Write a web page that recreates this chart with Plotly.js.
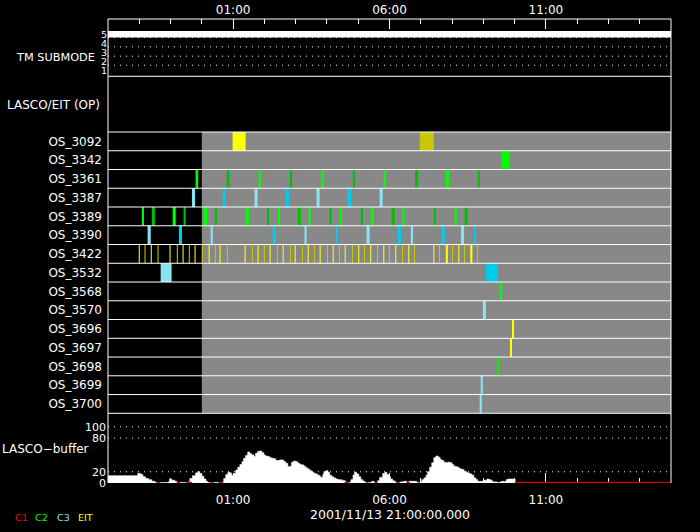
<!DOCTYPE html>
<html><head><meta charset="utf-8">
<script src="https://cdn.plot.ly/plotly-3.0.1.min.js"></script>
<style>html,body{margin:0;padding:0;background:#000;}#chart{width:700px;height:532px;}</style>
</head><body><div id="chart"></div>
<script>
// ---------------- DATA ----------------
const startLabel = '2001/11/13 21:00:00.000';
const tickTimes = ['01:00', '06:00', '11:00'];
const rowNames = ['OS_3092','OS_3342','OS_3361','OS_3387','OS_3389','OS_3390','OS_3422','OS_3532',
                  'OS_3568','OS_3570','OS_3696','OS_3697','OS_3698','OS_3699','OS_3700'];

// observations: row, start (UT), duration (min), shade key
const obsRow = [
 'OS_3092','OS_3092',
 'OS_3342',
 'OS_3361','OS_3361','OS_3361','OS_3361','OS_3361','OS_3361','OS_3361','OS_3361','OS_3361','OS_3361',
 'OS_3387','OS_3387','OS_3387','OS_3387','OS_3387','OS_3387','OS_3387',
 'OS_3389','OS_3389','OS_3389','OS_3389','OS_3389','OS_3389','OS_3389','OS_3389','OS_3389','OS_3389',
 'OS_3389','OS_3389','OS_3389','OS_3389','OS_3389','OS_3389','OS_3389','OS_3389','OS_3389','OS_3389',
 'OS_3390','OS_3390','OS_3390','OS_3390','OS_3390','OS_3390','OS_3390','OS_3390','OS_3390','OS_3390','OS_3390','OS_3390',
 'OS_3422','OS_3422','OS_3422','OS_3422','OS_3422','OS_3422','OS_3422','OS_3422','OS_3422','OS_3422',
 'OS_3422','OS_3422','OS_3422','OS_3422','OS_3422','OS_3422','OS_3422','OS_3422','OS_3422','OS_3422',
 'OS_3422','OS_3422','OS_3422','OS_3422','OS_3422','OS_3422','OS_3422','OS_3422','OS_3422','OS_3422',
 'OS_3422','OS_3422','OS_3422','OS_3422','OS_3422','OS_3422','OS_3422','OS_3422','OS_3422','OS_3422',
 'OS_3422','OS_3422','OS_3422','OS_3422','OS_3422','OS_3422','OS_3422','OS_3422','OS_3422','OS_3422',
 'OS_3532','OS_3532',
 'OS_3568','OS_3570','OS_3696','OS_3697','OS_3698','OS_3699','OS_3700'
];
const obsStart = [
 '00:59','06:58',
 '09:35',
 '23:48','00:48','01:49','02:49','03:49','04:50','05:49','06:49','07:48','08:49',
 '23:41','00:40','01:41','02:41','03:40','04:39','05:41',
 '22:05','22:24','23:04','23:25','00:04','00:25','01:24','02:05','02:26','03:04',
 '03:25','04:05','04:25','05:05','05:24','06:04','06:25','07:25','08:05','08:24',
 '22:16','23:16','00:17','02:16','03:17','04:17','05:16','06:16','06:41','07:40','08:17','08:42',
 '21:59','22:10','22:22','22:35','22:58','23:12','23:23','23:35','23:46','00:00',
 '00:13','00:25','00:34','00:48','01:22','01:36','01:47','01:59','02:10','02:24',
 '02:35','02:49','02:58','03:12','03:23','03:35','03:46','04:00','04:11','04:23',
 '04:34','04:48','05:00','05:11','05:23','05:36','05:48','05:59','06:11','06:24',
 '06:36','06:47','07:24','07:35','07:48','08:00','08:12','08:23','08:35','08:48',
 '22:41','09:05',
 '09:32','08:59','09:55','09:51','09:28','08:55','08:53'
];
const obsDur = [
 25,27,
 15,
 5,5,4,4,5,4,4,6,6,4,
 6,6,6,6,6,8,6,
 4,6,6,4,6,4,6,4,4,6,
 4,4,4,4,6,6,4,4,4,6,
 6,6,4,6,4,4,6,6,4,6,6,4,
 2,2,2,2,2,2,2,2,2,2,
 2,2,2,2,2,2,2,2,2,2,
 2,2,2,2,2,2,2,2,2,2,
 2,2,2,2,2,2,2,2,2,2,
 2,2,2,2,4,2,2,2,4,2,
 21,23,
 4,6,4,4,2,4,4
];
const obsShade = [
 'EITa','EITb',
 'C2a',
 'C2a','C2b','C2a','C2b','C2a','C2b','C2a','C2b','C2a','C2b',
 'C3a','C3b','C3a','C3b','C3a','C3b','C3a',
 'C2a','C2b','C2a','C2b','C2a','C2b','C2a','C2b','C2a','C2b',
 'C2a','C2b','C2a','C2b','C2a','C2b','C2a','C2b','C2a','C2b',
 'C3a','C3b','C3a','C3b','C3a','C3b','C3a','C3b','C3a','C3b','C3a','C3b',
 'EITa','EITb','EITa','EITb','EITa','EITb','EITa','EITb','EITa','EITb',
 'EITa','EITb','EITa','EITb','EITa','EITb','EITa','EITb','EITa','EITb',
 'EITa','EITb','EITa','EITb','EITa','EITb','EITa','EITb','EITa','EITb',
 'EITa','EITb','EITa','EITb','EITa','EITb','EITa','EITb','EITa','EITb',
 'EITa','EITb','EITa','EITb','EITa','EITb','EITa','EITb','EITa','EITb',
 'C3a','C3b',
 'C2a','C3a','EITa','EITa','C2a','C3a','C3a'
];

// TM submode (constant 5 over the whole span)
const tmTime = ['21:00', '15:00'];
const tmMode = [5, 5];

// LASCO buffer fill (minutes after 21:00 UT, percent)
const bufMinute = [0,53,57,63,67,72,78,84,90,93,
 101,115,118,122,128,132,138,149,153,157,
 162,168,172,176,180,184,188,191,197,203,
 212,218,222,226,230,234,237,241,245,249,
 253,257,260,264,268,272,276,280,283,287,
 291,295,299,302,306,310,314,318,322,325,
 329,333,337,341,345,349,352,356,360,364,
 368,372,376,379,383,387,391,395,399,402,
 406,408,412,414,418,422,425,429,433,437,
 441,448,452,456,458,462,466,470,473,477,
 481,485,489,493,496,500,506,510,514,517,
 521,527,531,535,539,542,546,550,554,560,
 567,573,577,584,592,596,598,602,606,610,
 613,617,621,625,629,633,637,640,644,648,
 652,656,660,663,667,671,675,679,683,687,
 690,694,698,702,706,709,717,721,727,731,
 735,738,746,752,755,759,761,764,767,779,
 781];
const bufValue = [13,13,17,15,11,8,6,3,1,0,
 1,2,7,5,3,0,1,0,2,8,
 13,18,20,17,12,7,3,1,0,1,
 0,1,8,15,19,18,14,17,23,28,
 33,38,44,49,55,52,50,47,53,56,
 57,54,50,48,47,45,44,43,40,40,
 41,41,38,35,29,30,37,39,38,35,
 33,32,30,27,25,22,19,17,16,14,
 12,10,15,20,22,19,14,11,9,7,
 6,5,4,1,0,1,6,14,19,16,
 11,6,3,1,0,1,3,1,0,4,
 10,17,19,15,11,7,4,2,0,2,
 3,0,3,3,1,0,2,6,9,14,
 20,28,36,45,48,46,42,40,37,36,
 37,36,33,30,29,27,25,24,21,19,
 18,16,14,9,6,3,3,5,7,6,
 4,2,1,2,3,1,3,6,7,7,
 0];
// stretches where the buffer reads empty (drawn red)
const bufEmptyFrom = [94,132,151,195,214,454,496,512,553,573,596,781];
const bufEmptyTo   = [99,138,161,197,220,460,498,517,557,579,598,1080];

// legend
const legendText = ['C1','C2','C3','EIT'];

// ---------------- STYLE ----------------
const FONT = 'DejaVu Sans';
const shadeColor = {C2a:'#00ff00', C2b:'#00c000', C3a:'#88e4f0', C3b:'#00ccee', EITa:'#ffff00', EITb:'#c8c800'};
const legendColor = ['#ff0000','#00ff00','#88e4f0','#ffff00'];
const W = 700, H = 532, ML = 108, MR = 29, MT = 19, MB = 49;
const PW = W - ML - MR, PH = H - MT - MB;
const px = x => (x - ML) / PW;          // pixel -> paper x
const py = y => (H - MB - y) / PH;      // pixel -> paper y
const D1 = py(413.3), D2 = py(132), D3 = py(76.3);

function toMin(t) {
  const [h, m] = t.split(':').map(Number);
  return (h >= 21 ? (h - 21) * 60 : (h + 3) * 60) + m;
}
const XR = [toMin(tmTime[0]), toMin(tmTime[1])];

// ---------------- TRACES ----------------
const traces = [];
Object.keys(shadeColor).forEach(key => {
  const idx = obsShade.map((s, i) => s === key ? i : -1).filter(i => i >= 0);
  if (!idx.length) return;
  traces.push({
    type: 'bar', orientation: 'h', xaxis: 'x', yaxis: 'y2',
    y: idx.map(i => rowNames.indexOf(obsRow[i])),
    x: idx.map(i => obsDur[i]),
    base: idx.map(i => toMin(obsStart[i])),
    width: 1,
    marker: {color: shadeColor[key], line: {width: 0}},
    hoverinfo: 'skip'
  });
});
// TM submode
traces.push({
  type: 'scatter', mode: 'lines', xaxis: 'x2', yaxis: 'y3',
  x: tmTime.map(toMin), y: tmMode, line: {color: '#fff', width: 6.5}, hoverinfo: 'skip'
});
// buffer
traces.push({
  type: 'scatter', mode: 'lines', xaxis: 'x', yaxis: 'y',
  x: bufMinute, y: bufValue, line: {shape: 'hv', color: '#fff', width: 0.6},
  fill: 'tozeroy', fillcolor: '#fff', hoverinfo: 'skip'
});
const ex = [], ey = [];
bufEmptyFrom.forEach((f, i) => { ex.push(f, bufEmptyTo[i], null); ey.push(0.9, 0.9, null); });
traces.push({
  type: 'scatter', mode: 'lines', xaxis: 'x', yaxis: 'y',
  x: ex, y: ey, line: {color: '#d00000', width: 1.3}, hoverinfo: 'skip'
});

// ---------------- LAYOUT ----------------
const shapes = [];
shapes.push({type:'rect', xref:'x', yref:'y2', x0: toMin('00:00'), x1: XR[1], y0: -0.5, y1: 14.5,
  fillcolor:'#888888', line:{width:0}, layer:'below'});
for (let i = 0; i < rowNames.length - 1; i++) {
  shapes.push({type:'line', xref:'paper', yref:'y2', x0:0, x1:1, y0:i+0.5, y1:i+0.5, line:{color:'#fff', width:1}});
}
[D1, D2, D3, 1].forEach(d => shapes.push({type:'line', xref:'paper', yref:'paper', x0:0, x1:1, y0:d, y1:d, line:{color:'#fff', width:1}}));
[0, 1].forEach(x => shapes.push({type:'line', xref:'paper', yref:'paper', x0:x, x1:x, y0:0, y1:1, line:{color:'#fff', width:1}}));
[1.58, 2.58, 3.61, 4.64].forEach(v => shapes.push({type:'line', xref:'paper', yref:'y3', x0:0, x1:1, y0:v, y1:v,
  line:{color:'#fff', width:1, dash:'1px,5px'}}));
[20, 80, 100].forEach(v => shapes.push({type:'line', xref:'paper', yref:'y', x0:0, x1:1, y0:v, y1:v,
  line:{color:'#fff', width:1, dash:'1px,5px'}, layer:'below'}));

const ann = [];
const lab = (text, x, y, anchor, size, color) => ann.push({text, xref:'paper', yref:'paper', x:px(x), y:py(y),
  xanchor:anchor, yanchor:'middle', showarrow:false, font:{family:FONT, size, color: color || '#fff'}});
lab('TM SUBMODE', 97, 57.5, 'right', 11.3);
lab('LASCO/EIT (OP)', 102, 105, 'right', 12);
lab('LASCO\u2212buffer', 91, 449, 'right', 12);
lab(startLabel, 389.5, 514, 'center', 12.5);
[13, 33, 55, 76].forEach((x, i) => lab(legendText[i], x, 517, 'left', 9.5, legendColor[i]));

const xcommon = {
  range: XR, tickmode:'array', tickvals: tickTimes.map(toMin), ticktext: tickTimes,
  ticks:'inside', ticklen:10, tickwidth:1, tickcolor:'#fff',
  minor:{tick0:0, dtick:60, ticks:'inside', ticklen:5, tickwidth:1, tickcolor:'#fff'},
  showgrid:false, zeroline:false, showline:false, fixedrange:true,
  tickfont:{family:FONT, size:12, color:'#fff'}
};
const layout = {
  width: W, height: H, margin:{l:ML, r:MR, t:MT, b:MB, pad:0},
  paper_bgcolor:'#000', plot_bgcolor:'#000', showlegend:false, barmode:'overlay',
  font:{family:FONT, color:'#fff', size:12},
  xaxis: Object.assign({}, xcommon, {domain:[0,1], anchor:'y', side:'bottom', layer:'below traces', ticklabelstandoff:8}),
  xaxis2: Object.assign({}, xcommon, {overlaying:'x', anchor:'y3', side:'top', ticklabelstandoff:2}),
  yaxis: {domain:[0, D1], range:[0, 124], tickmode:'array', tickvals:[0,20,80,100], ticks:'', showgrid:false,
    zeroline:false, showline:false, fixedrange:true, tickfont:{family:FONT, size:11, color:'#fff'}, ticklabelstandoff:1},
  yaxis2: {domain:[D1, D2], range:[14.5, -0.5], tickmode:'array', tickvals: rowNames.map((_, i) => i), ticktext: rowNames,
    ticks:'', showgrid:false, zeroline:false, showline:false, fixedrange:true, anchor:'x',
    tickfont:{family:FONT, size:12, color:'#fff'}, ticklabelstandoff:5},
  yaxis3: {domain:[D3, 1], range:[0.356, 6.69], tickmode:'array', tickvals:[1,2,3,4,5], ticks:'', showgrid:false,
    zeroline:false, showline:false, fixedrange:true, anchor:'x2', tickfont:{family:FONT, size:9.5, color:'#fff'}, ticklabelstandoff:0},
  shapes, annotations: ann
};
Plotly.newPlot('chart', traces, layout, {displayModeBar:false, staticPlot:true});
</script></body></html>
